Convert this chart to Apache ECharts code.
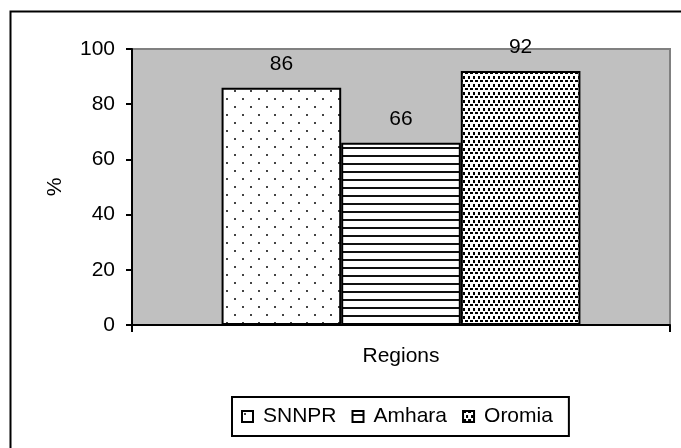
<!DOCTYPE html>
<html>
<head>
<meta charset="utf-8">
<script src="https://cdn.jsdelivr.net/npm/echarts@6/dist/echarts.min.js"></script>
<style>
html,body{margin:0;padding:0;background:#fff;}
#chart{width:681px;height:448px;}
</style>
</head>
<body>
<div id="chart"></div>
<script>
// ---- data ----
const categories = ['Regions'];
const seriesNames = ['SNNPR', 'Amhara', 'Oromia'];
const snnprValues = [86];
const amharaValues = [66];
const oromiaValues = [92];
const yTicks = { min: 0, max: 100, interval: 20 };
const yAxisName = '%';

// ---- patterns ----
function makePattern(w, h, draw) {
  const c = document.createElement('canvas');
  c.width = w; c.height = h;
  const ctx = c.getContext('2d');
  ctx.fillStyle = '#ffffff';
  ctx.fillRect(0, 0, w, h);
  draw(ctx);
  return { image: c, repeat: 'repeat' };
}
const dotsSparse = makePattern(16, 16, ctx => {
  ctx.fillStyle = '#444';
  ctx.fillRect(2, 2, 2, 2);
  ctx.fillRect(10, 10, 2, 2);
});
const hLines = makePattern(8, 8, ctx => {
  ctx.fillStyle = '#111';
  ctx.fillRect(0, 3, 8, 2);
});
const dotsDense = makePattern(10, 8, ctx => {
  ctx.fillStyle = '#000';
  ctx.fillRect(0, 0, 3, 2);
  ctx.fillRect(5, 0, 3, 2);
  ctx.fillRect(3, 4, 2, 3);
  ctx.fillRect(8, 4, 2, 3);
});
const patterns = [dotsSparse, hLines, dotsDense];
const valuesList = [snnprValues, amharaValues, oromiaValues];

const font = 'Liberation Sans, Arial, sans-serif';
const fs = 21;

const chart = echarts.init(document.getElementById('chart'), null, { renderer: 'canvas' });
chart.setOption({
  animation: false,
  backgroundColor: '#ffffff',
  textStyle: { fontFamily: font },
  graphic: [{
    type: 'rect', left: 8, top: 9, z: -10,
    shape: { width: 720, height: 520 },
    style: { fill: 'none', stroke: '#000', lineWidth: 2 }
  }],
  grid: {
    left: 132, right: 11, top: 49, bottom: 123,
    show: true, backgroundColor: '#C0C0C0', borderColor: '#808080', borderWidth: 2
  },
  legend: {
    left: 232, top: 397,
    selectedMode: false,
    icon: 'rect',
    itemWidth: 11, itemHeight: 11, itemGap: 15,
    padding: [9, 16, 9, 9],
    borderColor: '#000', borderWidth: 2,
    itemStyle: { borderColor: '#000', borderWidth: 2 },
    textStyle: { fontSize: fs, color: '#000', fontFamily: font, padding: [0, 0, 0, 5] },
    data: seriesNames
  },
  xAxis: {
    type: 'category',
    data: categories,
    axisLine: { lineStyle: { color: '#000', width: 2 } },
    axisTick: { show: true, length: 7, lineStyle: { color: '#000', width: 2 } },
    axisLabel: { fontSize: fs, color: '#000', margin: 21, fontFamily: font },
    splitLine: { show: false }
  },
  yAxis: {
    type: 'value',
    min: yTicks.min, max: yTicks.max, interval: yTicks.interval,
    name: yAxisName,
    nameLocation: 'middle',
    nameGap: 66,
    nameTextStyle: { fontSize: fs, color: '#000', fontFamily: font },
    axisLine: { show: true, lineStyle: { color: '#000', width: 2 } },
    axisTick: { show: true, length: 6, lineStyle: { color: '#000', width: 2 } },
    axisLabel: { fontSize: fs, color: '#000', margin: 17, fontFamily: font },
    splitLine: { show: false }
  },
  series: seriesNames.map((name, i) => ({
    name: name,
    type: 'bar',
    data: valuesList[i],
    barGap: '0%',
    barCategoryGap: '33.3%',
    itemStyle: { color: patterns[i], borderColor: '#000', borderWidth: 2 },
    label: {
      show: true, position: 'top', distance: 13,
      fontSize: fs, color: '#000', fontFamily: font
    }
  }))
});
</script>
</body>
</html>
